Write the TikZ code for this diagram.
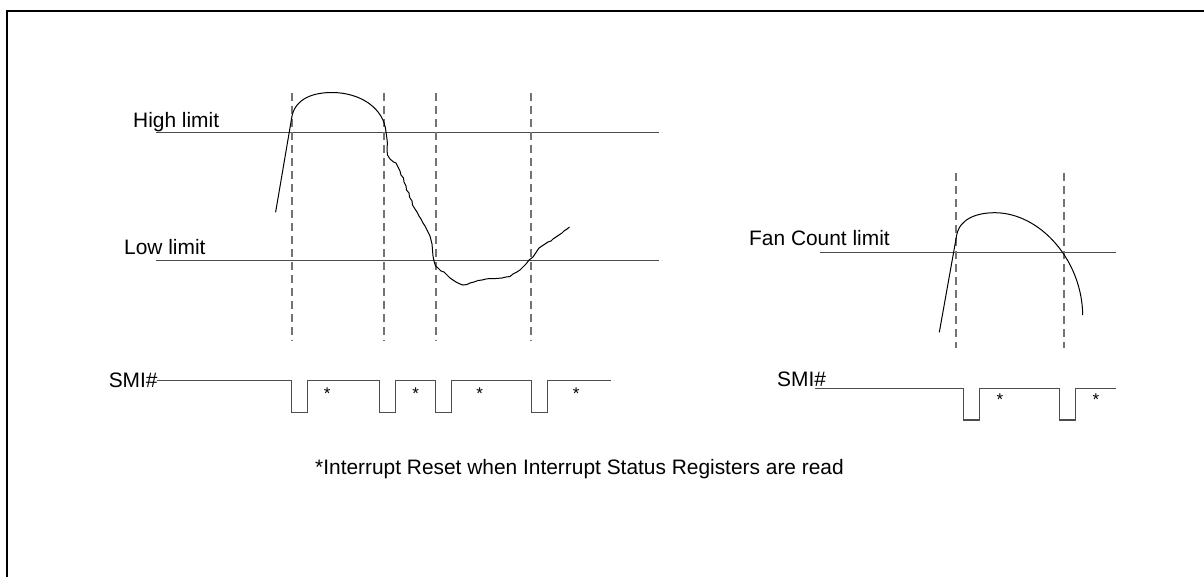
\documentclass[tikz,border=0pt]{standalone}
\usepackage{fontspec}
\setmainfont{Liberation Sans}
\tikzset{
  lbl/.style={anchor=base west,inner sep=0pt,font=\fontsize{20.9}{24}\selectfont},
  rst/.style={inner sep=0pt,font=\fontsize{17}{19}\selectfont},
  limit/.style={line width=1.1pt,draw=black!70},
  marker/.style={line width=1.3pt,draw=black!55,dash pattern=on 7.5pt off 5.5pt},
  smi/.style={line width=1.1pt,draw=black!70},
  signal/.style={line width=1pt,draw=black}
}
\begin{document}
\begin{tikzpicture}[x=1pt,y=-1pt]
		\useasboundingbox (0,0) rectangle (1204,576);
		\draw[line width=2pt] (7,580)--(7,11)--(1210,11);
		% left: high / low limit
		\draw[limit] (156,132.5)--(659,132.5) (156,260.7)--(659,260.7);
		\node[lbl] (high) at (133,127) {High limit};
		\node[lbl] (low) at (124,254) {Low limit};
		\foreach \x in {292,384,436,531}
			\draw[marker] (\x,93)--(\x,341);
		\draw[signal] (275.6,212.3)--(292,116) .. controls (296,98) and (314,92.5) .. (332,92.5)
			.. controls (360,92.5) and (384,108) .. (386,132) .. controls (387.5,142) .. (387,150)
			--(387.5,155)--(390,159)--(393.5,162)--(396,163)--(398,167)--(400,171)--(401,175)
			--(403.5,178)--(404,182)--(406,186)--(406.5,190)--(409,193)--(409.5,197)--(412,201)
			--(412.5,205)--(415,209)--(417,212)--(419,216)--(421,219)--(423,223)--(425,226)
			--(426.5,229)--(428,232)--(430,236)--(431,240)--(432,244)--(432.5,250)--(433,256)
			--(434,261)--(435.5,266)--(438,268)--(441,271)--(444,272)--(447,275)--(450,278)
			--(453,280)--(456,282)--(460,284)--(463,285)--(467,284.5)--(470,283)--(474,282)
			--(478,280.5)--(482,280)--(486,279)--(490,278.5)--(496,278.5)--(502,278)--(506,277)
			--(510,276.5)--(513,274)--(516,272.5)--(520,270)--(523,267)--(526,264)--(529,260)
			--(533,257)--(535,254)--(537,251)--(539,248)--(542,246)--(545,244)--(548,242)
			--(551,241)--(553,239)--(556,237)--(559,235)--(562,233)--(564,231)--(567,229)--(569.5,227);
		% left SMI#
		\node[lbl] (smiA) at (108.6,387.3) {SMI\#};
		\draw[smi] (157,380.7)--(291.8,380.7)--(291.8,412.3)--(307.6,412.3)--(307.6,380.7)
			--(379.6,380.7)--(379.6,412.3)--(395.4,412.3)--(395.4,380.7)
			--(435.7,380.7)--(435.7,412.3)--(451.2,412.3)--(451.2,380.7)
			--(531.5,380.7)--(531.5,412.3)--(547.7,412.3)--(547.7,380.7)--(611.4,380.7);
		\foreach \x/\n in {327.3/a,415.8/b,479.8/c,576.2/d}
			\node[rst] (rst\n) at (\x,394) {*};
		% right: fan count
		\draw[limit] (820,252.3)--(1116,252.3);
		\node[lbl] (fan) at (749,245) {Fan Count limit};
		\foreach \x in {956,1064}
			\draw[marker] (\x,173)--(\x,348);
		\draw[signal] (939.3,332.3)--(956.7,235) .. controls (960,218) and (978,212.7) .. (995,212.7)
			.. controls (1040,213) and (1082,260) .. (1082.7,315);
		\node[lbl] (smiB) at (777,386) {SMI\#};
		\draw[smi] (815,388.7)--(963.3,388.7)--(963.3,420)--(979.3,420)--(979.3,388.7)
			--(1059.3,388.7)--(1059.3,420)--(1075.3,420)--(1075.3,388.7)--(1116,388.7);
		\foreach \x/\n in {1000/e,1096/f}
			\node[rst] (rst\n) at (\x,400) {*};
		\node[lbl] (note) at (315,474) {*Interrupt Reset when Interrupt Status Registers are read};
		%\draw[ultra thin,cyan](0,0)grid[step=50](1204,576);
\end{tikzpicture}
\end{document}
